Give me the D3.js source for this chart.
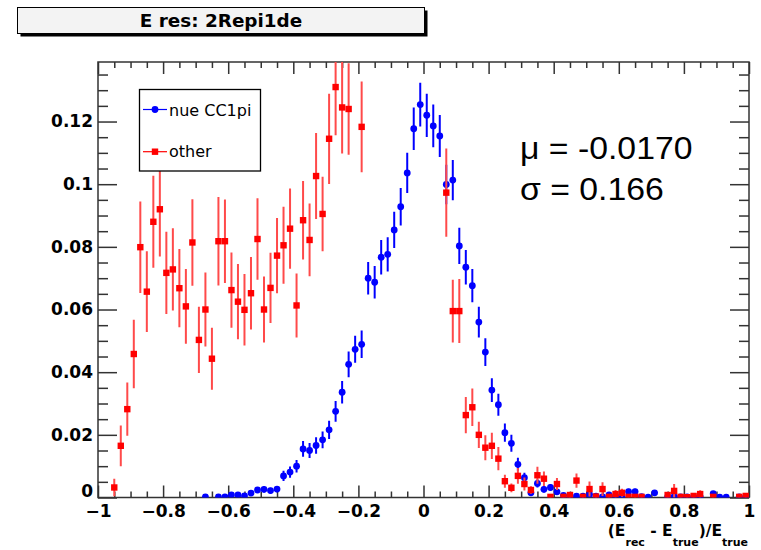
<!DOCTYPE html>
<html>
<head>
<meta charset="utf-8">
<script src="https://cdn.jsdelivr.net/npm/d3@7"></script>
<style>
  body { margin: 0; background: #fff; }
  svg { display: block; }
</style>
</head>
<body>
<svg id="chart" width="761" height="550"></svg>
<script>
// Histogram binning: 100 bins over [-1, 1]
const binLow = -1, binHigh = 1, nBins = 100;

const xTicks = [-1, -0.8, -0.6, -0.4, -0.2, 0, 0.2, 0.4, 0.6, 0.8, 1];
const yTicks = [0, 0.02, 0.04, 0.06, 0.08, 0.1, 0.12];

const seriesNames = ["nue CC1pi", "other"];

// nue CC1pi: normalised bin contents (null = empty bin)
const nueValues = [
  null, null, null, null, null, null, null, null, null, null,
  null, null, null, null, null, null, 0.0002, null, 0.0002, 0.0002,
  0.0008, 0.0008, 0.0005, 0.0014, 0.0024, 0.0026, 0.0022, 0.0027, 0.0069, 0.0081,
  0.0100, 0.0155, 0.0150, 0.0166, 0.0184, 0.0216, 0.0275, 0.0336, 0.0425, 0.0473,
  0.0489, 0.0700, 0.0687, 0.0767, 0.0776, 0.0854, 0.0928, 0.1036, 0.1177, 0.1254,
  0.1220, 0.1186, 0.1154, 0.0999, 0.1013, 0.0803, 0.0735, 0.0676, 0.0560, 0.0464,
  0.0343, 0.0296, 0.0207, 0.0173, 0.0106, 0.0063, 0.0015, 0.0045, 0.0026, 0.0032,
  0.0018, 0.0007, 0.0007, 0.0004, 0.0004, 0.0010, 0.0004, 0.0002, 0.0008, 0.0004,
  0.0001, 0.0019, 0.0019, 0.0003, 0.0001, 0.0015, null, 0.0002, 0.0003, 0.0002,
  0.0002, 0.0002, 0.0002, null, 0.0012, 0.0001, 0.0001, null, 0.0002, 0.0002
];
const nueErrors = [
  null, null, null, null, null, null, null, null, null, null,
  null, null, null, null, null, null, 0.0002, null, 0.0002, 0.0002,
  0.0005, 0.0005, 0.0004, 0.0007, 0.0009, 0.0010, 0.0009, 0.0010, 0.0016, 0.0018,
  0.0020, 0.0025, 0.0024, 0.0026, 0.0027, 0.0029, 0.0033, 0.0036, 0.0041, 0.0043,
  0.0044, 0.0052, 0.0052, 0.0055, 0.0055, 0.0058, 0.0060, 0.0064, 0.0068, 0.0070,
  0.0069, 0.0068, 0.0067, 0.0063, 0.0064, 0.0058, 0.0055, 0.0053, 0.0049, 0.0044,
  0.0038, 0.0035, 0.0029, 0.0027, 0.0021, 0.0016, 0.0008, 0.0013, 0.0010, 0.0011,
  0.0008, 0.0005, 0.0005, 0.0004, 0.0004, 0.0006, 0.0004, 0.0003, 0.0005, 0.0004,
  0.0002, 0.0009, 0.0009, 0.0003, 0.0002, 0.0008, null, 0.0003, 0.0003, 0.0003,
  0.0002, 0.0003, 0.0003, null, 0.0007, 0.0002, 0.0002, null, 0.0003, 0.0003
];

// other: normalised bin contents (null = empty or off-scale bin)
const otherValues = [
  null, null, 0.0032, 0.0165, 0.0282, 0.0458, 0.0799, 0.0657, 0.0880, 0.0920,
  0.0717, 0.0728, 0.0668, 0.0610, 0.0814, 0.0503, 0.0600, 0.0443, 0.0818, 0.0818,
  0.0662, 0.0625, 0.0599, 0.0652, 0.0825, 0.0600, 0.0669, 0.0772, 0.0805, 0.0858,
  0.0613, 0.0885, 0.0822, 0.1026, 0.0905, 0.1145, 0.1310, 0.1245, 0.1240, null,
  0.1183, null, null, null, null, null, null, null, null, null,
  null, null, null, 0.0973, 0.0595, 0.0595, 0.0263, 0.0288, 0.0200, 0.0159,
  0.0165, 0.0124, 0.0052, 0.0031, 0.0069, 0.0043, 0.0024, 0.0071, 0.0060, 0.0002,
  0.0043, 0.0002, 0.0008, 0.0054, 0.0002, 0.0027, 0.0003, 0.0027, 0.0002, 0.0011,
  0.0015, 0.0002, 0.0002, 0.0002, null, null, null, 0.0008, 0.0021, 0.0002,
  0.0001, 0.0005, 0.0011, null, 0.0002, null, null, null, 0.0002, 0.0005
];
const otherErrors = [
  null, null, 0.0028, 0.0065, 0.0085, 0.0109, 0.0146, 0.0129, 0.0147, 0.0151,
  0.0131, 0.0131, 0.0125, 0.0119, 0.0138, 0.0106, 0.0118, 0.0099, 0.0141, 0.0133,
  0.0120, 0.0120, 0.0114, 0.0116, 0.0130, 0.0105, 0.0112, 0.0120, 0.0123, 0.0128,
  0.0102, 0.0125, 0.0116, 0.0137, 0.0119, 0.0144, 0.0154, 0.0147, 0.0146, null,
  0.0145, null, null, null, null, null, null, null, null, null,
  null, null, null, 0.0141, 0.0100, 0.0102, 0.0058, 0.0060, 0.0042, 0.0040,
  0.0042, 0.0037, 0.0021, 0.0014, 0.0025, 0.0021, 0.0012, 0.0027, 0.0023, 0.0003,
  0.0019, 0.0003, 0.0008, 0.0023, 0.0003, 0.0024, 0.0003, 0.0022, 0.0003, 0.0013,
  0.0013, 0.0003, 0.0003, 0.0003, null, null, null, 0.0008, 0.0022, 0.0003,
  0.0002, 0.0008, 0.0012, null, 0.0003, null, null, null, 0.0003, 0.0007
];

const fitMean = "-0.0170";
const fitSigma = "0.166";

// ---------------------------------------------------------------
const svg = d3.select("#chart");
const frame = { left: 98, right: 749, top: 62, bottom: 497.5 };
const yMax = 0.139;

const x = d3.scaleLinear().domain([binLow, binHigh]).range([frame.left, frame.right]);
const y = d3.scaleLinear().domain([0, yMax]).range([frame.bottom, frame.top]);

const binWidth = (binHigh - binLow) / nBins;
const binCenter = i => binLow + (i + 0.5) * binWidth;

function points(values, errors) {
  return values.map((v, i) => ({ x: binCenter(i), v, e: errors[i] }))
               .filter(d => d.v !== null && d.v <= yMax);
}

const tickFont = "'DejaVu Sans', sans-serif";

// clip region for the data
svg.append("defs").append("clipPath").attr("id", "plotClip")
  .append("rect")
  .attr("x", frame.left).attr("y", frame.top)
  .attr("width", frame.right - frame.left).attr("height", frame.bottom - frame.top);

// ---- title box with drop shadow
const title = svg.append("g");
title.append("rect").attr("x", 20.5).attr("y", 10.5).attr("width", 407).attr("height", 26).attr("fill", "#000");
title.append("rect").attr("x", 17.5).attr("y", 7.5).attr("width", 407).attr("height", 26)
  .attr("fill", "#f3f3f3").attr("stroke", "#000").attr("stroke-width", 1);
title.append("text").attr("x", 221).attr("y", 27.3)
  .attr("text-anchor", "middle")
  .attr("font-family", tickFont).attr("font-weight", "bold").attr("font-size", 18.4)
  .text("E res: 2Repi1de");

// ---- axes
const minorX = d3.range(-1, 1.0001, 0.05).map(v => +v.toFixed(2)).filter(v => !xTicks.some(t => Math.abs(t - v) < 1e-6));
const minorY = d3.range(0, yMax, 0.005).map(v => +v.toFixed(3)).filter(v => !yTicks.some(t => Math.abs(t - v) < 1e-6));
const fmt = d3.format("~g");

function styleAxis(g) {
  g.select(".domain").remove();
  g.selectAll(".tick line").attr("stroke", "#333").attr("stroke-width", 1.5);
  g.selectAll(".tick text").attr("font-family", tickFont).attr("font-weight", "bold")
    .attr("font-size", 17).attr("fill", "#000");
}

svg.append("g").attr("transform", `translate(0,${frame.bottom})`)
  .call(d3.axisBottom(x).tickValues(xTicks).tickFormat(fmt).tickSizeInner(-12).tickSizeOuter(0).tickPadding(7))
  .call(styleAxis);
svg.append("g").attr("transform", `translate(0,${frame.bottom})`)
  .call(d3.axisBottom(x).tickValues(minorX).tickFormat("").tickSizeInner(-6).tickSizeOuter(0))
  .call(styleAxis);
svg.append("g").attr("transform", `translate(0,${frame.top})`)
  .call(d3.axisTop(x).tickValues(xTicks).tickFormat("").tickSizeInner(-12).tickSizeOuter(0))
  .call(styleAxis);
svg.append("g").attr("transform", `translate(0,${frame.top})`)
  .call(d3.axisTop(x).tickValues(minorX).tickFormat("").tickSizeInner(-6).tickSizeOuter(0))
  .call(styleAxis);

const yAxisG = svg.append("g").attr("transform", `translate(${frame.left},0)`)
  .call(d3.axisLeft(y).tickValues(yTicks).tickFormat(fmt).tickSizeInner(-19).tickSizeOuter(0).tickPadding(5))
  .call(styleAxis);
// the zero label sits a touch higher so it clears the x-axis "−1"
yAxisG.selectAll(".tick text").filter(d => d === 0).attr("dy", "-0.05em");
svg.append("g").attr("transform", `translate(${frame.left},0)`)
  .call(d3.axisLeft(y).tickValues(minorY).tickFormat("").tickSizeInner(-10).tickSizeOuter(0))
  .call(styleAxis);
svg.append("g").attr("transform", `translate(${frame.right},0)`)
  .call(d3.axisRight(y).tickValues(yTicks).tickFormat("").tickSizeInner(-19).tickSizeOuter(0))
  .call(styleAxis);
svg.append("g").attr("transform", `translate(${frame.right},0)`)
  .call(d3.axisRight(y).tickValues(minorY).tickFormat("").tickSizeInner(-10).tickSizeOuter(0))
  .call(styleAxis);

// frame
svg.append("rect")
  .attr("x", frame.left).attr("y", frame.top)
  .attr("width", frame.right - frame.left).attr("height", frame.bottom - frame.top)
  .attr("fill", "none").attr("stroke", "#333").attr("stroke-width", 1.5);

// ---- data
const plot = svg.append("g").attr("clip-path", "url(#plotClip)");

function drawSeries(data, color, barColor, shape) {
  const g = plot.append("g");
  g.selectAll("line").data(data).join("line")
    .attr("x1", d => x(d.x)).attr("x2", d => x(d.x))
    .attr("y1", d => y(Math.max(0, d.v - d.e))).attr("y2", d => y(d.v + d.e))
    .attr("stroke", barColor).attr("stroke-width", 2);
  if (shape === "circle") {
    g.selectAll("circle").data(data).join("circle")
      .attr("cx", d => x(d.x)).attr("cy", d => y(d.v)).attr("r", 3.4)
      .attr("fill", color);
  } else {
    g.selectAll("rect").data(data).join("rect")
      .attr("x", d => x(d.x) - 3.2).attr("y", d => y(d.v) - 3.2)
      .attr("width", 6.4).attr("height", 6.4)
      .attr("fill", color);
  }
}

drawSeries(points(nueValues, nueErrors), "#0000ff", "#0000ff", "circle");
drawSeries(points(otherValues, otherErrors), "#ff0000", "#ff4a4a", "square");

// ---- legend
const legend = svg.append("g");
legend.append("rect").attr("x", 139.5).attr("y", 89.5).attr("width", 121).attr("height", 81.5)
  .attr("fill", "#fff").attr("stroke", "#000").attr("stroke-width", 1.3);
const legendRows = [
  { name: seriesNames[0], color: "#0000ff", shape: "circle", ly: 109.5, ty: 116 },
  { name: seriesNames[1], color: "#ff0000", shape: "square", ly: 151.7, ty: 156.7 }
];
legendRows.forEach(r => {
  legend.append("line").attr("x1", 143).attr("x2", 167).attr("y1", r.ly).attr("y2", r.ly)
    .attr("stroke", r.color).attr("stroke-width", 1.2);
  if (r.shape === "circle") {
    legend.append("circle").attr("cx", 155).attr("cy", r.ly).attr("r", 3.4).attr("fill", r.color);
  } else {
    legend.append("rect").attr("x", 151.8).attr("y", r.ly - 3.2).attr("width", 6.4).attr("height", 6.4).attr("fill", r.color);
  }
  legend.append("text").attr("x", 169).attr("y", r.ty)
    .attr("font-family", tickFont).attr("font-size", 16).attr("fill", "#000")
    .text(r.name);
});

// ---- axis title: (E_rec - E_true)/E_true
const xt = svg.append("text").attr("x", 748).attr("y", 535.5)
  .attr("text-anchor", "end")
  .attr("font-family", tickFont).attr("font-weight", "bold").attr("font-size", 15.5);
xt.append("tspan").text("(E");
xt.append("tspan").attr("dy", 10).attr("font-size", 11).text("rec");
xt.append("tspan").attr("dy", -10).text(" - E");
xt.append("tspan").attr("dy", 10.5).attr("font-size", 11).text("true");
xt.append("tspan").attr("dy", -10.5).text(")/E");
xt.append("tspan").attr("dy", 10.5).attr("font-size", 11).text("true");

// ---- fit summary
const stats = [
  { label: "\u03bc = " + fitMean, y: 159 },
  { label: "\u03c3 = " + fitSigma, y: 200 }
];
stats.forEach(s => {
  svg.append("text")
    .attr("transform", `translate(520,${s.y}) scale(1.09,1)`)
    .attr("font-family", "'Liberation Sans', Arial, sans-serif").attr("font-size", 31).attr("fill", "#000")
    .text(s.label);
});
</script>
</body>
</html>
